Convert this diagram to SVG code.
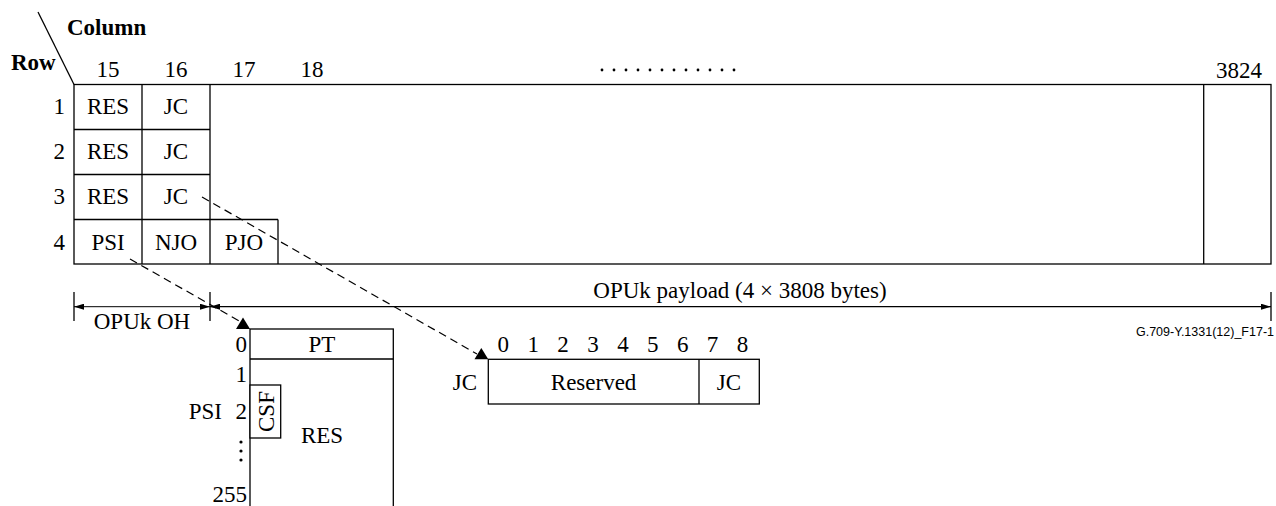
<svg xmlns="http://www.w3.org/2000/svg" width="1276" height="506" viewBox="0 0 1276 506">
<style>
.t{font-family:"Liberation Serif","Times New Roman",serif;font-size:23px;fill:#000}
.b{font-weight:bold}
.m{text-anchor:middle}
.e{text-anchor:end}
.ln{stroke:#000;stroke-width:1.3;fill:none}
.bx{stroke:#000;stroke-width:1.3;fill:#fff}
.ds{stroke:#000;stroke-width:1.2;fill:none;stroke-dasharray:8 5}
.lbl{font-family:"Liberation Sans",Arial,sans-serif;font-size:12.5px;fill:#000}
</style>
<defs>
<marker id="ah" viewBox="0 0 10 6" refX="10" refY="3" markerWidth="10" markerHeight="6" markerUnits="userSpaceOnUse" orient="auto-start-reverse">
<path d="M0,0 L10,3 L0,6 z" fill="#000"/>
</marker>
</defs>
<rect width="1276" height="506" fill="#fff"/>

<g id="header">
<line class="ln" x1="38" y1="12" x2="74" y2="84.5"/>
<text class="t b" x="67" y="35">Column</text>
<text class="t b" x="11" y="70">Row</text>
<text class="t m" x="108" y="77">15</text>
<text class="t m" x="176" y="77">16</text>
<text class="t m" x="244" y="77">17</text>
<text class="t m" x="312" y="77">18</text>
<g fill="#000">
<circle cx="602" cy="70" r="1.4"/><circle cx="614" cy="70" r="1.4"/><circle cx="626" cy="70" r="1.4"/><circle cx="638" cy="70" r="1.4"/><circle cx="650" cy="70" r="1.4"/><circle cx="662" cy="70" r="1.4"/><circle cx="674" cy="70" r="1.4"/><circle cx="686" cy="70" r="1.4"/><circle cx="698" cy="70" r="1.4"/><circle cx="710" cy="70" r="1.4"/><circle cx="722" cy="70" r="1.4"/><circle cx="734" cy="70" r="1.4"/>
</g>
<text class="t m" x="1239" y="78">3824</text>
<text class="t e" x="65" y="114">1</text>
<text class="t e" x="65" y="159">2</text>
<text class="t e" x="65" y="204">3</text>
<text class="t e" x="65" y="250">4</text>
</g>

<g id="frame">
<rect class="bx" x="74" y="84.5" width="1197" height="179.5"/>
<line class="ln" x1="1203.7" y1="84.5" x2="1203.7" y2="264"/>
<line class="ln" x1="74" y1="129.5" x2="210" y2="129.5"/>
<line class="ln" x1="74" y1="174.5" x2="210" y2="174.5"/>
<line class="ln" x1="74" y1="219.5" x2="278" y2="219.5"/>
<line class="ln" x1="142" y1="84.5" x2="142" y2="264"/>
<line class="ln" x1="210" y1="84.5" x2="210" y2="264"/>
<line class="ln" x1="278" y1="219.5" x2="278" y2="264"/>
</g>

<g id="cells">
<text class="t m" x="108" y="114">RES</text>
<text class="t m" x="176" y="114">JC</text>
<text class="t m" x="108" y="159">RES</text>
<text class="t m" x="176" y="159">JC</text>
<text class="t m" x="108" y="204">RES</text>
<text class="t m" x="176" y="204">JC</text>
<text class="t m" x="108" y="250">PSI</text>
<text class="t m" x="176" y="250">NJO</text>
<text class="t m" x="244" y="250">PJO</text>
</g>

<g id="dimensions">
<line class="ln" x1="74" y1="292" x2="74" y2="321"/>
<line class="ln" x1="210" y1="292" x2="210" y2="321"/>
<line class="ln" x1="1271" y1="292" x2="1271" y2="321"/>
<line x1="74" y1="306.7" x2="210" y2="306.7" stroke="#000" stroke-width="1" marker-start="url(#ah)" marker-end="url(#ah)"/>
<line x1="210" y1="306.7" x2="1271" y2="306.7" stroke="#000" stroke-width="1.3" marker-start="url(#ah)" marker-end="url(#ah)"/>
<text class="t m" x="142" y="329">OPUk OH</text>
<text class="t m" x="740" y="298">OPUk payload (4 × 3808 bytes)</text>
<text class="lbl e" x="1274" y="336">G.709-Y.1331(12)_F17-1</text>
</g>

<g id="psi">
<rect class="bx" x="250" y="329" width="143.3" height="190"/>
<line class="ln" x1="250" y1="359" x2="393.3" y2="359"/>
<rect class="bx" x="250" y="385" width="30.7" height="53"/>
<text class="t m" transform="translate(273.5,411.5) rotate(-90)">CSF</text>
<text class="t m" x="322" y="352">PT</text>
<text class="t m" x="322" y="443">RES</text>
<text class="t e" x="247" y="352">0</text>
<text class="t e" x="247" y="382">1</text>
<text class="t e" x="247" y="419">2</text>
<text class="t e" x="222" y="419">PSI</text>
<g fill="#000"><circle cx="241" cy="442" r="1.6"/><circle cx="241" cy="451" r="1.6"/><circle cx="241" cy="460" r="1.6"/></g>
<text class="t e" x="247" y="502">255</text>
</g>

<g id="jc">
<rect class="bx" x="488.3" y="359.3" width="271" height="44.7"/>
<line class="ln" x1="699" y1="359.3" x2="699" y2="404"/>
<text class="t m" x="593.6" y="390">Reserved</text>
<text class="t m" x="729" y="390">JC</text>
<text class="t m" x="465" y="390">JC</text>
<text class="t m" x="503.3" y="352">0</text>
<text class="t m" x="533.2" y="352">1</text>
<text class="t m" x="563.1" y="352">2</text>
<text class="t m" x="593" y="352">3</text>
<text class="t m" x="622.9" y="352">4</text>
<text class="t m" x="652.8" y="352">5</text>
<text class="t m" x="682.7" y="352">6</text>
<text class="t m" x="712.6" y="352">7</text>
<text class="t m" x="742.5" y="352">8</text>
</g>

<g id="connectors">
<line class="ds" x1="130" y1="259" x2="241" y2="322"/>
<polygon points="243,317.5 236,329 250,329" fill="#000"/>
<line class="ds" x1="202" y1="197" x2="477" y2="354"/>
<polygon points="481.3,348 474.5,359.3 488.3,359.3" fill="#000"/>
</g>
</svg>
